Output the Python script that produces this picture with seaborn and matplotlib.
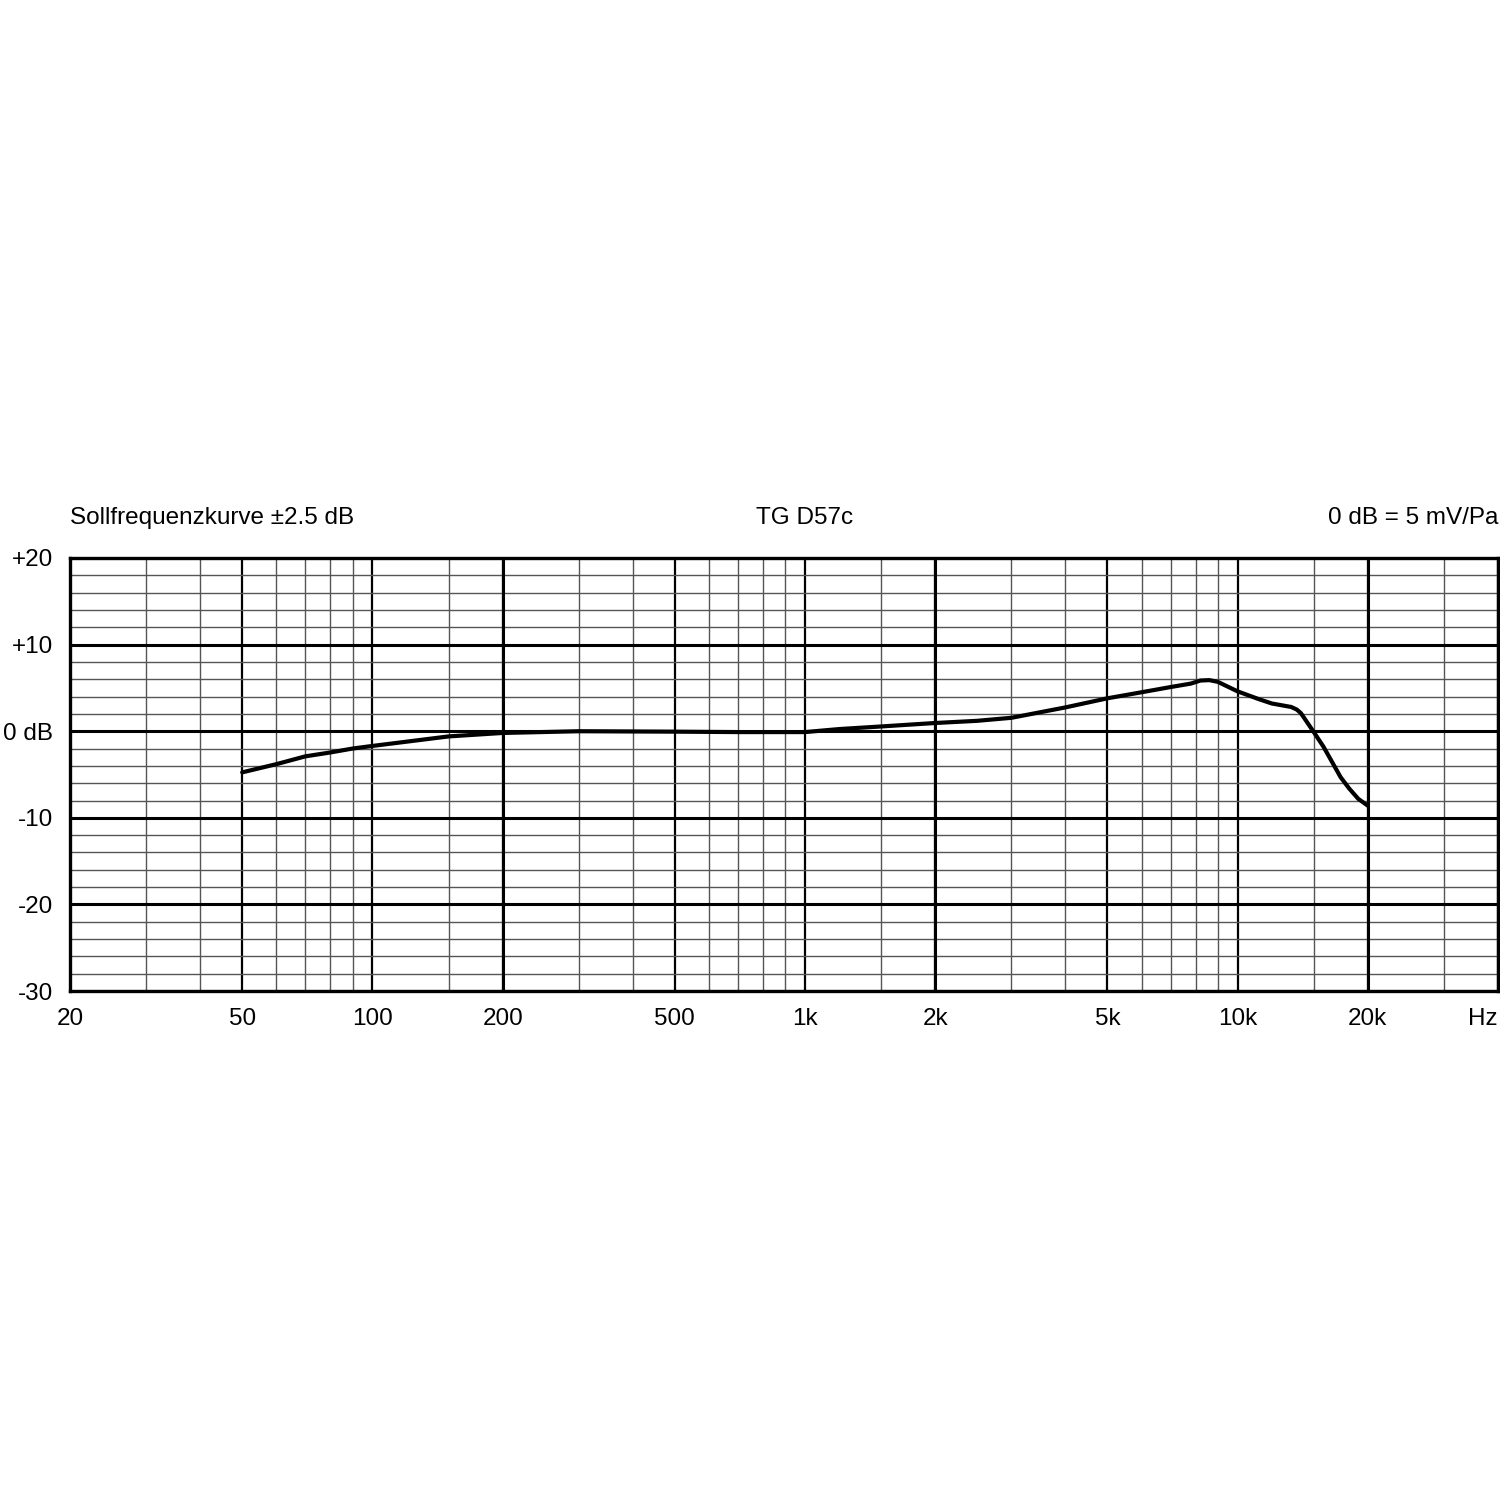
import numpy as np
import pandas as pd
import matplotlib
matplotlib.use("Agg")
import matplotlib.pyplot as plt
import seaborn as sns

# Frequenzgang TG D57c
freq = [50, 60, 70, 80, 90, 100, 150, 200, 300, 500, 700, 1000, 1200, 1500,
        2000, 2500, 3000, 4000, 5000, 6000, 7000, 7800, 8200, 8600, 9000,
        10000, 11200, 12000, 13300, 13700, 14000, 15000, 15800, 17300,
        18100, 19000, 20000]
pegel = [-4.75, -3.8, -2.9, -2.45, -2.0, -1.7, -0.6, -0.2, 0.0, -0.05, -0.1,
         -0.1, 0.25, 0.55, 0.95, 1.2, 1.55, 2.75, 3.8, 4.5, 5.1, 5.5, 5.85,
         5.9, 5.7, 4.6, 3.7, 3.2, 2.8, 2.5, 2.1, -0.1, -1.8, -5.3, -6.6,
         -7.8, -8.6]

x_ticks = [20, 50, 100, 200, 500, 1000, 2000, 5000, 10000, 20000, 40000]
x_labels = ['20', '50', '100', '200', '500', '1k', '2k', '5k', '10k', '20k', 'Hz']
x_minor = [30, 40, 60, 70, 80, 90, 150, 300, 400, 600, 700, 800, 900, 1500,
           3000, 4000, 6000, 7000, 8000, 9000, 15000, 30000]
x_dick = [200, 2000, 20000]
y_ticks = [-30, -20, -10, 0, 10, 20]
y_labels = ['-30', '-20', '-10', '0 dB', '+10', '+20']

df = pd.DataFrame({'freq': freq, 'pegel': pegel})

sns.set_style("white")
plt.rcParams['font.family'] = ['Liberation Sans', 'DejaVu Sans']
plt.rcParams['text.color'] = 'black'

fig = plt.figure(figsize=(15, 15), dpi=100)
ax = fig.add_axes([0.0467, 0.3393, 0.952, 0.2887])

ax.set_xscale('log')
ax.set_xlim(20, 40000)
ax.set_ylim(-30, 20)

ax.set_xticks(x_ticks)
ax.set_xticklabels(x_labels)
ax.set_xticks(x_minor, minor=True)
ax.set_xticklabels([], minor=True)
ax.set_yticks(y_ticks)
ax.set_yticklabels(y_labels)
ax.set_yticks(np.arange(-30, 21, 2), minor=True)

ax.tick_params(axis='both', which='both', length=0, labelsize=17.5, colors='black')
ax.tick_params(axis='x', pad=12)
ax.tick_params(axis='y', pad=12)
ax.xaxis.get_ticklabels()[-1].set_horizontalalignment('right')

# Raster
ax.grid(False)
ax.grid(True, which='minor', axis='both', color='#555555', linewidth=1.0)
ax.grid(True, which='major', axis='x', color='black', linewidth=1.6)
ax.grid(True, which='major', axis='y', color='black', linewidth=2.2)
for f in x_dick:
    ax.axvline(f, color='black', linewidth=2.2, zorder=1.5)
ax.set_axisbelow(True)

for s in ax.spines.values():
    s.set_color('black')
    s.set_linewidth(2.4)

sns.lineplot(data=df, x='freq', y='pegel', color='black', linewidth=3.0,
             sort=False, ax=ax, zorder=3)
ax.set_xlabel('')
ax.set_ylabel('')

ax.text(0, 1.092, 'Sollfrequenzkurve ±2.5 dB', transform=ax.transAxes,
        ha='left', va='center', fontsize=17.5, color='black')
ax.text(1000, 1.092, 'TG D57c', transform=ax.get_xaxis_transform(),
        ha='center', va='center', fontsize=17.5, color='black')
ax.text(1, 1.092, '0 dB = 5 mV/Pa', transform=ax.transAxes,
        ha='right', va='center', fontsize=17.5, color='black')

fig.savefig('out.png', dpi=100, facecolor='white')
